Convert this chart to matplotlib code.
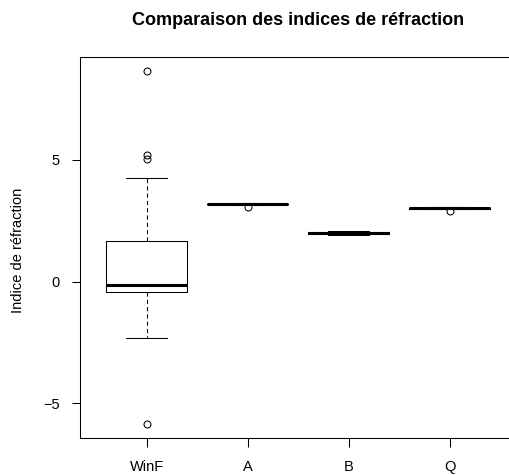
import matplotlib
matplotlib.use("Agg")
import matplotlib.pyplot as plt

plt.rcParams['font.family'] = ['Liberation Sans', 'DejaVu Sans']

# Group labels and five-number summaries of the refractive index
groups = ["WinF", "A", "B", "Q"]
whisker_low = [-2.31, 3.15, 1.91, 2.97]
quartile_1 = [-0.44, 3.18, 1.97, 2.99]
medians = [-0.15, 3.19, 1.99, 3.01]
quartile_3 = [1.67, 3.21, 2.02, 3.03]
whisker_high = [4.27, 3.23, 2.06, 3.05]
outliers = [[8.67, 5.20, 5.04, -5.83], [3.06], [], [2.92]]

yticks = [-5, 0, 5]

stats = []
for i, name in enumerate(groups):
    stats.append(dict(label=name, whislo=whisker_low[i], q1=quartile_1[i],
                      med=medians[i], q3=quartile_3[i], whishi=whisker_high[i],
                      fliers=outliers[i]))

W, H, DPI = 509, 475, 100
fig = plt.figure(figsize=(W / DPI, H / DPI), dpi=DPI)
left, right, top, bottom = 80, 516.3, 56.7, 437.7
ax = fig.add_axes([left / W, 1 - bottom / H, (right - left) / W, (bottom - top) / H])

positions = list(range(1, len(groups) + 1))
ax.bxp(stats, positions=positions, widths=0.8, capwidths=0.4,
       boxprops=dict(color='black', linewidth=0.75),
       medianprops=dict(color='black', linewidth=2.2, solid_capstyle='butt'),
       whiskerprops=dict(color='black', linewidth=0.75, linestyle=(0, (4, 3))),
       capprops=dict(color='black', linewidth=0.75),
       flierprops=dict(marker='o', markerfacecolor='none', markeredgecolor='black',
                       markersize=5, markeredgewidth=0.75, linestyle='none'))

ax.set_xlim(0.34, 4.66)
ax.set_ylim(-6.41, 9.24)
ax.set_xticks(positions)
ax.set_xticklabels(groups)
ax.set_yticks(yticks)
ax.set_yticklabels([str(v).replace('-', '\u2212') for v in yticks])

ax.tick_params(axis='x', length=6.3, width=0.75, pad=9.5, labelsize=10.5)
ax.tick_params(axis='y', length=6, width=0.75, pad=8.4, labelsize=10.5)
for s in ax.spines.values():
    s.set_linewidth(0.75)
    s.set_color('black')

fig.text(18 / W, 1 - 250 / H, "Indice de réfraction", rotation=90,
         ha='center', va='center', fontsize=10.5)
fig.text((left + right) / 2 / W, 1 - 25 / H, "Comparaison des indices de réfraction",
         ha='center', va='baseline', fontsize=13, fontweight='bold')

fig.savefig("out.png", dpi=DPI)
